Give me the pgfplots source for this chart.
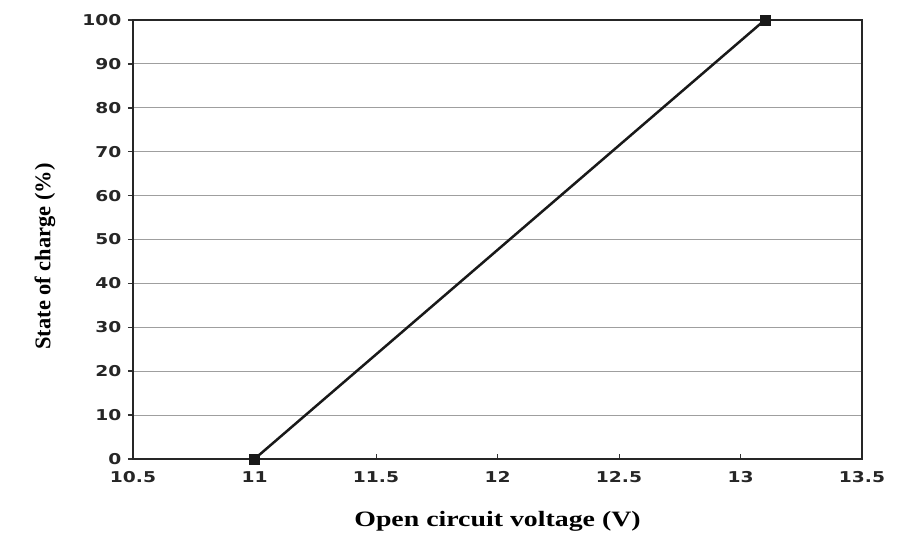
\documentclass[border=0pt]{standalone}
\usepackage{pgfplots}
\pgfplotsset{compat=1.18}
\usepackage{fontspec}
\setmainfont{Liberation Serif}
\newfontfamily\tickfont[FakeStretch=1.25]{DejaVu Sans}
\newfontfamily\xlabfont[FakeStretch=1.27]{Liberation Serif}
\begin{document}
\begin{tikzpicture}[x=1bp,y=1bp]
\begin{axis}[
  name=ax,
  scale only axis,
  width=729bp, height=439bp,
  xmin=10.5, xmax=13.5, ymin=0, ymax=100,
  xtick={10.5,11,11.5,12,12.5,13,13.5},
  ytick={0,10,...,100},
  xticklabels={10.5,11,11.5,12,12.5,13,13.5},
  yticklabels={0,10,20,30,40,50,60,70,80,90,100},
  ymajorgrids,
  grid style={gray!75, line width=1.2bp},
  axis line style={black!85, line width=1.8bp},
  x tick style={black!80, line width=1bp},
  y tick style={black!80, line width=1.5bp},
  xtick align=inside,
  ytick align=outside,
  major tick length=5bp,
  xtick pos=bottom, ytick pos=left,
  tick label style={font=\tickfont\bfseries\fontsize{15}{17}\selectfont, text=black!85},
  xticklabel style={yshift=-9bp},
  yticklabel style={xshift=-3bp},
  xlabel={\xlabfont\bfseries Open circuit voltage (V)},
  ylabel={\bfseries State of charge (\%)},
  xlabel style={font=\fontsize{22}{24}\selectfont, at={(rel axis cs:0.5,0)}, anchor=center, yshift=-62bp},
  ylabel style={font=\fontsize{22.5}{24}\selectfont, at={(rel axis cs:0,0.5)}, anchor=center, yshift=88bp, xshift=-17bp},
  clip=false,
]
\addplot[black!90, line width=2.5bp, mark=square*, mark size=5bp, mark options={black!90, line width=0.5bp}] coordinates {(11,0) (13.1,100)};
\coordinate (ll) at (rel axis cs:0,0);
\coordinate (ur) at (rel axis cs:1,1);
\end{axis}
\pgfresetboundingbox
\path[use as bounding box] ([xshift=-133bp,yshift=-80bp]ll) rectangle ([xshift=38bp,yshift=20bp]ur);
\end{tikzpicture}
\end{document}
